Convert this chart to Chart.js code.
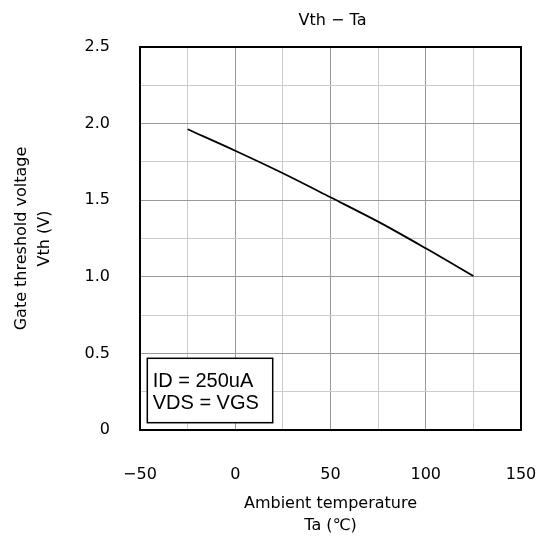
<!DOCTYPE html>
<html>
<head>
<meta charset="utf-8">
<script src="https://cdn.jsdelivr.net/npm/chart.js@4"></script>
<style>
html,body{margin:0;padding:0;background:#fff;}
canvas{display:block;}
</style>
</head>
<body>
<canvas id="c" width="539" height="537"></canvas>
<script>
const chartTitle = "Vth \u2212 Ta";
const xTitle = ["Ambient temperature", "Ta (\u2103)"];
const yTitle = ["Gate threshold voltage", "Vth (V)"];
const temperatures = [-25, 0, 25, 50, 75, 100, 125];
const vthValues = [1.963, 1.823, 1.676, 1.519, 1.36, 1.186, 1.005];
const noteLines = ["ID = 250uA", "VDS = VGS"];

const FONT = "DejaVu Sans";

const frame = {
  id: 'frame',
  afterDatasetsDraw(chart) {
    const {ctx, chartArea: a} = chart;
    ctx.save();
    ctx.strokeStyle = '#000';
    ctx.lineWidth = 2;
    ctx.strokeRect(a.left, a.top, a.right - a.left, a.bottom - a.top);
    // note box
    const bx = a.left + 7.3, by = a.bottom - 7.3 - 64.4, bw = 125.4, bh = 64.4;
    ctx.fillStyle = '#fff';
    ctx.fillRect(bx, by, bw, bh);
    ctx.lineWidth = 1.5;
    ctx.strokeRect(bx, by, bw, bh);
    ctx.fillStyle = '#000';
    ctx.font = '20px "Liberation Sans", Arial, sans-serif';
    ctx.textBaseline = 'alphabetic';
    ctx.textAlign = 'left';
    ctx.fillText(noteLines[0], bx + 5.4, by + 29);
    ctx.fillText(noteLines[1], bx + 5.4, by + 50.7);
    // chart title centred over the plot area
    ctx.font = '16px "' + FONT + '"';
    ctx.textAlign = 'center';
    ctx.textBaseline = 'middle';
    ctx.fillText(chartTitle, (a.left + a.right) / 2 + 2, 21);
    ctx.restore();
  }
};

new Chart(document.getElementById('c'), {
  type: 'line',
  data: {
    datasets: [{
      label: 'Vth',
      data: temperatures.map((t, i) => ({x: t, y: vthValues[i]})),
      borderColor: '#000',
      borderWidth: 1.8,
      pointRadius: 0,
      fill: false,
      cubicInterpolationMode: 'monotone'
    }]
  },
  options: {
    responsive: false,
    animation: false,
    layout: {padding: {left: 0, right: 18, top: 47, bottom: 0}},
    plugins: {
      legend: {display: false},
      tooltip: {enabled: false},
      title: {display: false}
    },
    scales: {
      x: {
        type: 'linear',
        min: -50, max: 150,
        afterFit(s) { s.height = 107; s.paddingLeft = 0; s.paddingRight = 0; },
        border: {display: false},
        grid: {
          drawTicks: false,
          lineWidth: 1,
          color: c => (Math.round(c.tick.value) % 50 === 0) ? '#999' : '#ccc'
        },
        ticks: {
          stepSize: 25,
          padding: 35,
          color: '#000',
          maxRotation: 0,
          autoSkip: false,
          font: {family: FONT, size: 16},
          callback: v => (v % 50 === 0) ? (v < 0 ? '\u2212' + Math.abs(v) : String(v)) : ''
        },
        title: {
          display: true,
          text: xTitle,
          color: '#000',
          font: {family: FONT, size: 16, lineHeight: 1.4},
          padding: {top: 0, bottom: 0}
        }
      },
      y: {
        type: 'linear',
        min: 0, max: 2.5,
        afterFit(s) { s.width = 140; s.paddingTop = 0; s.paddingBottom = 0; },
        border: {display: false},
        grid: {
          drawTicks: false,
          lineWidth: 1,
          color: c => (Math.round(c.tick.value * 100) % 50 === 0) ? '#999' : '#ccc'
        },
        ticks: {
          stepSize: 0.25,
          padding: 30,
          color: '#000',
          autoSkip: false,
          font: {family: FONT, size: 16},
          callback: v => {
            const r = Math.round(v * 100);
            if (r % 50 !== 0) return '';
            return r === 0 ? '0' : (r / 100).toFixed(1);
          }
        },
        title: {
          display: true,
          text: yTitle,
          color: '#000',
          font: {family: FONT, size: 16, lineHeight: 1.4},
          padding: {top: 10.8, bottom: 0}
        }
      }
    }
  },
  plugins: [frame]
});
</script>
</body>
</html>
